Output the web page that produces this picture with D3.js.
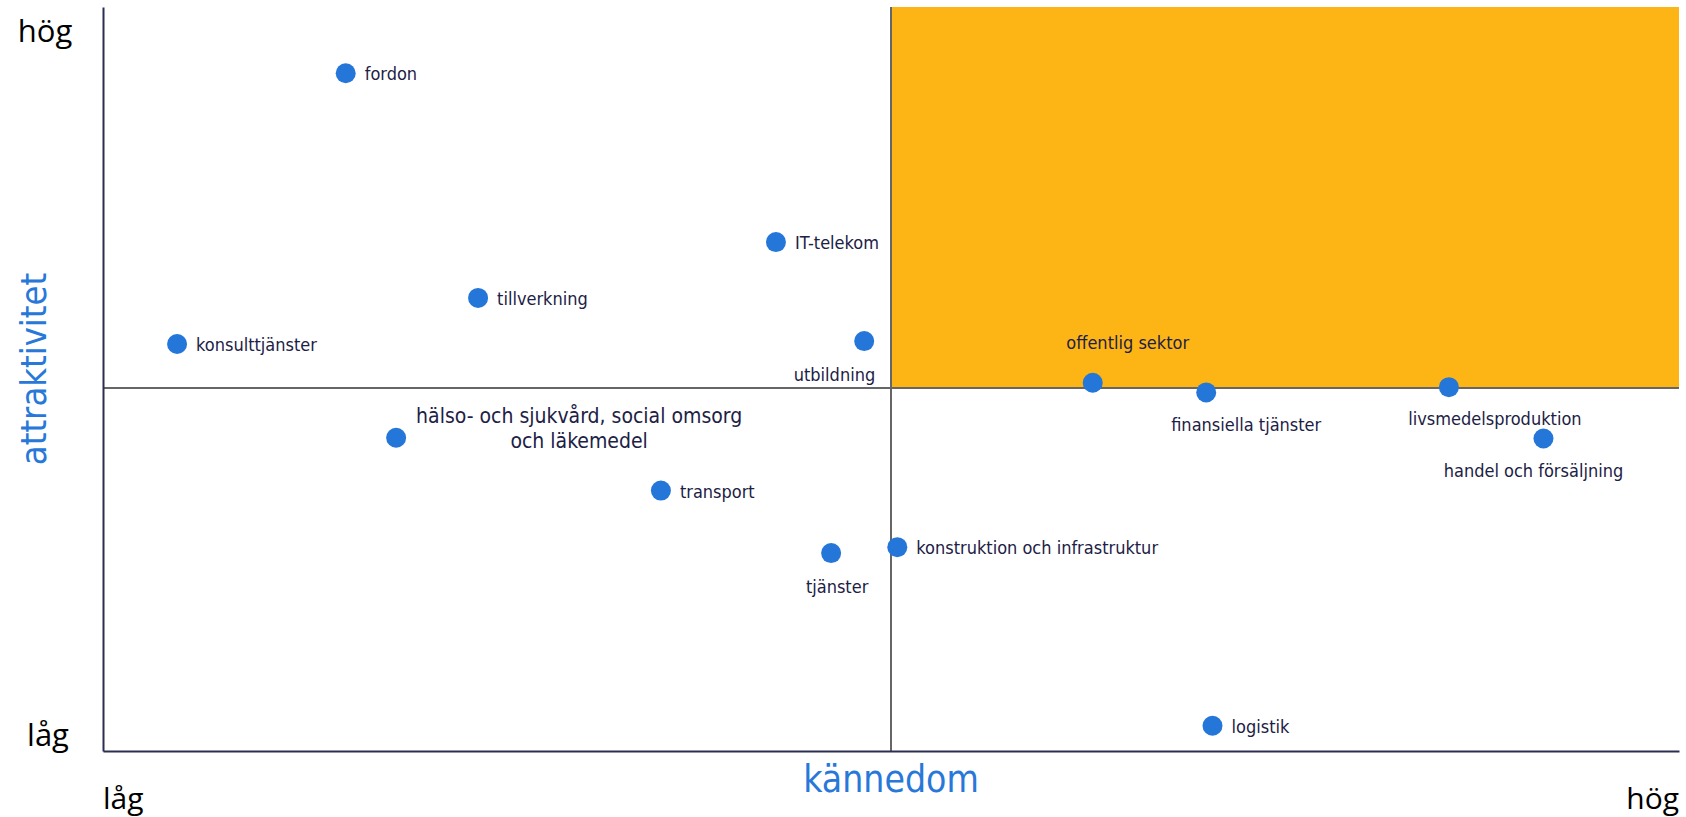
<!DOCTYPE html>
<html>
<head>
<meta charset="utf-8">
<script src="https://cdn.jsdelivr.net/npm/d3@7"></script>
<style>
  body { margin: 0; background: #fff; }
  .lbl { font-family: "DejaVu Sans Condensed", "DejaVu Sans", sans-serif; fill: #1c2145; }
  .end { font-family: "Open Sans", "Noto Sans", sans-serif; fill: #000; }
  .title { font-family: "DejaVu Sans Condensed", "DejaVu Sans", sans-serif; fill: #2778d8; }
</style>
</head>
<body>
<div id="chart"></div>
<script>
// sectors: kännedom (x) and attraktivitet (y), 0-100
var sectors = ["fordon", "IT-telekom", "tillverkning", "konsulttjänster", "utbildning",
  "offentlig sektor", "finansiella tjänster", "livsmedelsproduktion", "handel och försäljning",
  "hälso- och sjukvård, social omsorg|och läkemedel", "transport", "tjänster",
  "konstruktion och infrastruktur", "logistik"];
var kannedom = [15.4, 42.7, 23.8, 4.7, 48.3, 62.8, 70.0, 85.4, 91.4, 18.6, 35.4, 46.2, 50.4, 70.4];
var attraktivitet = [91.1, 68.4, 60.9, 54.7, 55.1, 49.5, 48.2, 48.9, 42.0, 42.1, 35.0, 26.6, 27.4, 3.4];
var midX = 50, midY = 48.8;
var levels = ["låg", "hög"];

var margin = {top: 7, right: 7, bottom: 66, left: 103},
    fullwidth = 1686,
    fullheight = 817,
    width = fullwidth - margin.left - margin.right,
    height = fullheight - margin.top - margin.bottom;

// label placement per point: anchor, dx, dy (px from dot centre)
var labelPos = [
  ["start", 19, 0], ["start", 19, 0], ["start", 19, 0], ["start", 19, 0],
  ["end", 11, 33], ["middle", 35, -41], ["middle", 40, 32], ["middle", 46, 31],
  ["middle", -10, 31], ["middle", 183, -22], ["start", 19, 0], ["middle", 6, 33],
  ["start", 19, 0], ["start", 19, 0]
];

var dataset = sectors.map(function(s, i) {
  return {name: s, x: kannedom[i], y: attraktivitet[i], pos: labelPos[i]};
});

var svg = d3.select("#chart")
    .append("svg")
    .attr("width", fullwidth)
    .attr("height", fullheight);

var g = svg.append("g")
    .attr("transform", "translate(" + margin.left + "," + margin.top + ")");

var xScale = d3.scaleLinear().domain([0, 100]).range([0, width]);
var yScale = d3.scaleLinear().domain([0, 100]).range([height, 0]);

// highlighted quadrant
g.append("rect")
    .attr("x", xScale(midX))
    .attr("y", yScale(100))
    .attr("width", xScale(100) - xScale(midX))
    .attr("height", yScale(midY) - yScale(100))
    .style("fill", "#fdb515");

// quadrant lines
g.append("line")
    .attr("x1", xScale(midX)).attr("x2", xScale(midX))
    .attr("y1", yScale(100)).attr("y2", yScale(0))
    .style("stroke", "#666").style("stroke-width", 2);
g.append("line")
    .attr("x1", xScale(0)).attr("x2", xScale(100))
    .attr("y1", yScale(midY)).attr("y2", yScale(midY))
    .style("stroke", "#666").style("stroke-width", 2);

var xAxis = d3.axisBottom(xScale).tickValues([]).tickSizeOuter(0);
var yAxis = d3.axisLeft(yScale).tickValues([]).tickSizeOuter(0);

g.append("g")
    .classed("x axis", true)
    .attr("transform", "translate(0," + height + ")")
    .call(xAxis)
    .select(".domain").style("stroke", "#2a2e52").style("stroke-width", 2);

g.append("g")
    .classed("y axis", true)
    .call(yAxis)
    .select(".domain").style("stroke", "#2a2e52").style("stroke-width", 2);

// low / high labels
g.append("text").classed("end", true)
    .attr("x", -58).attr("y", yScale(100) + 23)
    .style("text-anchor", "middle").style("font-size", "31px")
    .attr("dominant-baseline", "central")
    .text(levels[1]);
g.append("text").classed("end", true)
    .attr("x", -55).attr("y", yScale(0) - 17)
    .style("text-anchor", "middle").style("font-size", "31px")
    .attr("dominant-baseline", "central")
    .text(levels[0]);
g.append("text").classed("end", true)
    .attr("x", xScale(0)).attr("y", height + 46)
    .style("text-anchor", "start").style("font-size", "30px")
    .attr("dominant-baseline", "central")
    .text(levels[0]);
g.append("text").classed("end", true)
    .attr("x", xScale(100)).attr("y", height + 46)
    .style("text-anchor", "end").style("font-size", "30px")
    .attr("dominant-baseline", "central")
    .text(levels[1]);

// axis titles
g.append("text").classed("title", true)
    .attr("transform", "translate(" + (-70) + "," + (yScale(50) - 10) + ")rotate(-90)")
    .style("text-anchor", "middle").style("font-size", "36px")
    .attr("dominant-baseline", "central")
    .text("attraktivitet");
g.append("text").classed("title", true)
    .attr("x", xScale(midX)).attr("y", height + 28)
    .style("text-anchor", "middle").style("font-size", "37px")
    .attr("dominant-baseline", "central")
    .text("kännedom");

// points
var pts = g.append("g").classed("points", true);

pts.selectAll("circle")
    .data(dataset)
    .enter().append("circle")
    .attr("cx", function(d) { return xScale(d.x); })
    .attr("cy", function(d) { return yScale(d.y); })
    .attr("r", 10)
    .style("fill", "#2476d9");

var labels = pts.selectAll("text")
    .data(dataset)
    .enter().append("text")
    .classed("lbl", true)
    .attr("x", function(d) { return xScale(d.x) + d.pos[1]; })
    .attr("y", function(d) { return yScale(d.y) + d.pos[2]; })
    .attr("dominant-baseline", "central")
    .style("text-anchor", function(d) { return d.pos[0]; })
    .style("font-size", function(d) { return d.name.indexOf("|") >= 0 ? "21px" : "18px"; });

labels.each(function(d) {
  var lines = d.name.split("|");
  var t = d3.select(this);
  lines.forEach(function(l, i) {
    t.append("tspan")
      .attr("x", xScale(d.x) + d.pos[1])
      .attr("dy", i === 0 ? 0 : 25)
      .text(l);
  });
});
</script>
</body>
</html>
